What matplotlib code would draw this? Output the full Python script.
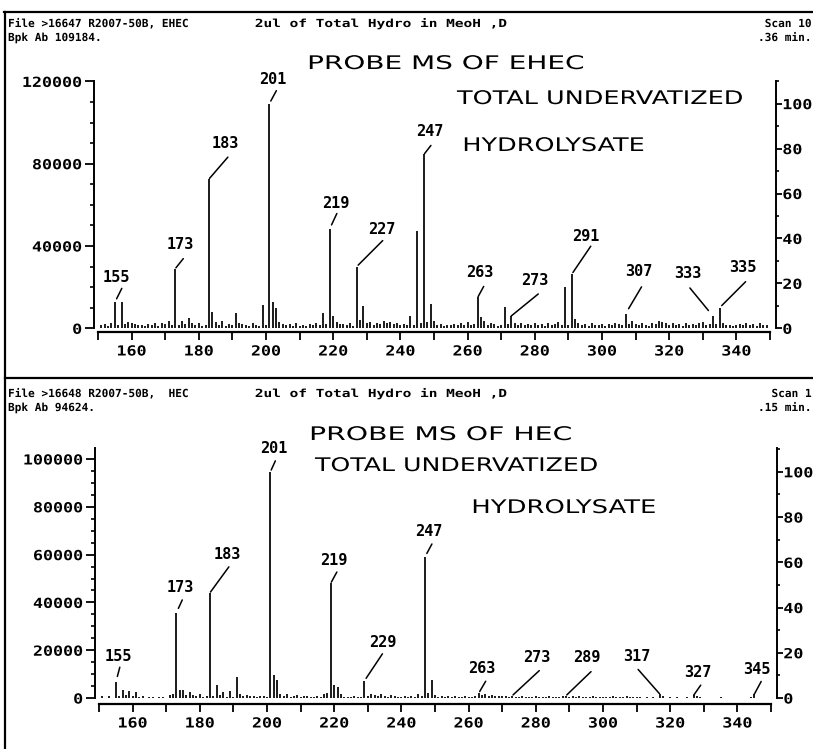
import matplotlib
matplotlib.use("Agg")
import matplotlib.pyplot as plt
from matplotlib import patheffects
from matplotlib.transforms import Affine2D
from matplotlib.lines import Line2D

# Probe MS spectra of EHEC / HEC hydrolysates (m/z 150..350)

mz = list(range(150, 351))

ehec_bpk = 109184
ehec_ab = [
    0, 1500, 2000, 1200, 2500, 12600, 1500, 12800, 2200, 3000,
    2500, 2200, 1500, 1800, 1000, 2000, 1500, 2500, 1200, 2800,
    2200, 3500, 1500, 29000, 1800, 3500, 2000, 4800, 2500, 1500,
    2800, 1200, 1500, 72500, 8000, 3000, 1500, 3500, 1200, 2000,
    1500, 7500, 2500, 2000, 1800, 1200, 2500, 1500, 1000, 11500,
    1500, 109184, 12600, 9800, 3000, 2200, 1500, 2000, 1200, 2500,
    1000, 1800, 1200, 2200, 1500, 2500, 1800, 7300, 2000, 48500,
    6000, 3000, 2200, 2000, 1500, 2800, 1200, 30000, 4000, 11000,
    2500, 3000, 1500, 2800, 2000, 3500, 2500, 3000, 2000, 2500,
    1500, 2200, 1500, 5800, 1500, 47200, 2500, 84500, 3000, 11800,
    3500, 1500, 2000, 1200, 1800, 1500, 2200, 1500, 2500, 1800,
    3000, 1500, 2200, 15000, 5300, 3500, 1500, 2500, 2000, 1200,
    1500, 10500, 2000, 6000, 2500, 1500, 2500, 1800, 2200, 1500,
    2500, 1500, 2000, 1200, 2800, 1500, 2200, 3000, 1500, 20000,
    1500, 26300, 4500, 2500, 1500, 2000, 1200, 2500, 1800, 1500,
    2200, 1200, 2000, 1500, 2800, 2200, 1500, 7000, 2000, 3500,
    2000, 1500, 2500, 1800, 1200, 2500, 2000, 3500, 3000, 2500,
    1800, 2500, 1500, 2200, 1200, 2500, 1500, 2200, 1800, 2500,
    3000, 1500, 2000, 6000, 2000, 10000, 2500, 1500, 1800, 1200,
    1500, 2200, 1800, 2500, 1500, 2200, 1200, 2500, 1800, 1500,
    0,
]

hec_bpk = 94624
hec_ab = [
    0, 800, 0, 700, 0, 6600, 1000, 3200, 1200, 2800,
    1000, 2500, 600, 800, 0, 600, 500, 0, 600, 500,
    0, 1200, 1500, 35600, 3400, 3200, 1200, 2600, 1200, 800,
    1500, 600, 800, 44000, 1000, 5300, 1200, 2500, 500, 2800,
    600, 8800, 1500, 1000, 1200, 800, 1000, 600, 800, 1000,
    500, 94624, 9800, 7700, 1500, 1000, 1800, 600, 800, 1200,
    500, 800, 1000, 600, 500, 800, 600, 1500, 2200, 48100,
    5500, 4800, 1500, 600, 500, 600, 800, 500, 600, 7200,
    800, 1500, 1200, 800, 1800, 1000, 600, 1200, 800, 600,
    500, 800, 600, 700, 500, 1500, 1000, 59000, 2000, 7700,
    1200, 500, 800, 600, 900, 500, 700, 600, 500, 800,
    600, 500, 700, 2000, 1200, 1500, 900, 1200, 800, 1000,
    700, 800, 600, 1000, 600, 500, 700, 500, 600, 500,
    700, 500, 600, 500, 800, 500, 600, 500, 700, 1000,
    600, 800, 500, 700, 500, 600, 500, 700, 500, 600,
    500, 600, 500, 700, 500, 600, 500, 700, 500, 600,
    500, 600, 0, 500, 0, 600, 0, 1500, 800, 0,
    600, 0, 500, 0, 0, 600, 0, 1200, 800, 600,
    0, 0, 0, 0, 0, 600, 0, 0, 0, 0,
    0, 0, 0, 0, 600, 1500, 0, 0, 0, 0,
    0,
]

ehec_labels = [155, 173, 183, 201, 219, 227, 247, 263, 273, 291, 307, 333, 335]
hec_labels = [155, 173, 183, 201, 219, 229, 247, 263, 273, 289, 317, 327, 345]

ehec_header = ["File >16647 R2007-50B, EHEC", "Bpk Ab 109184.",
               "2ul of Total Hydro in MeoH ,D", "Scan 10", ".36 min."]
hec_header = ["File >16648 R2007-50B,  HEC", "Bpk Ab 94624.",
              "2ul of Total Hydro in MeoH ,D", "Scan 1", ".15 min."]

ehec_notes = ["PROBE MS OF EHEC", "TOTAL UNDERVATIZED", "HYDROLYSATE"]
hec_notes = ["PROBE MS OF HEC", "TOTAL UNDERVATIZED", "HYDROLYSATE"]

# layout (pixels) ------------------------------------------------------
W, H = 813, 749

# leader start dy, leader end (dx, dy), label centre (dx, dy); +y is up
ehec_leaders = [
    (4, 7, 14, 2, 25), (1, 8, 10, 5, 24), (1, 19, 22, 16, 36),
    (3, 7, 13, 3, 24), (4, 7, 15, 6, 25), (2, 26, 26, 25, 37),
    (1, 7, 9, 6, 23), (1, 6, 11, 2, 25), (0, 27, 22, 24, 35),
    (2, 19, 28, 14, 38), (6, 16, 27, 13, 42), (7, -23, 28, -25, 42),
    (3, 26, 26, 23, 40),
]
hec_leaders = [
    (6, 4, 15, 3, 26), (5, 6, 13, 4, 25), (1, 19, 26, 17, 38),
    (2, 5, 11, 3, 23), (1, 6, 11, 3, 23), (3, 18, 27, 18, 38),
    (4, 7, 13, 4, 25), (2, 7, 12, 3, 25), (1, 27, 25, 25, 38),
    (1, 25, 24, 21, 38), (1, -22, 25, -23, 38), (0, 7, 10, 4, 23),
    (0, 7, 13, 3, 25),
]

MONO = "DejaVu Sans Mono"


class Stretch(patheffects.AbstractPathEffect):
    """Draw text stretched horizontally (plotter lettering is wide)."""

    def __init__(self, sx, anchor=0.0):
        super().__init__()
        self._sx = sx
        self._anchor = anchor

    def draw_path(self, renderer, gc, tpath, affine, rgbFace=None):
        ext = tpath.get_extents()
        x0 = ext.x0 + self._anchor * ext.width
        st = Affine2D().translate(-x0, 0).scale(self._sx, 1).translate(x0, 0)
        renderer.draw_path(gc, tpath, st + affine, rgbFace)


fig = plt.figure(figsize=(W / 100, H / 100), dpi=100)


def fx(x):
    return x / W


def fy(y):
    return 1 - y / H


def fig_line(x0, y0, x1, y1, lw=1.6):
    fig.add_artist(Line2D([fx(x0), fx(x1)], [fy(y0), fy(y1)],
                          transform=fig.transFigure, color="black", lw=lw))


def draw_panel(box, ab, bpk, ylim, yticks, yminor, labels, leaders,
               header, hdr_y, notes, note_pos):
    left, top, right, bottom = box
    ax = fig.add_axes([fx(left), fy(bottom), fx(right - left), (bottom - top) / H])
    xs = [m for m, v in zip(mz, ab) if v > 0]
    vs = [v for v in ab if v > 0]
    ax.vlines(xs, 0, vs, colors="black", lw=1.25)
    ax.set_xlim(150, 350)
    ax.set_ylim(*ylim)

    for s in ["top", "right"]:
        ax.spines[s].set_visible(False)
    ax.spines["left"].set_position(("outward", 3))
    ax.spines["left"].set_bounds(0, yticks[-1] if ylim[1] < yticks[-1] else ylim[1])
    ax.spines["left"].set_linewidth(1.4)
    ax.spines["bottom"].set_linewidth(1.6)

    ax.set_xticks(range(160, 350, 20))
    ax.set_xticks(range(150, 351, 10), minor=True)
    ax.set_yticks(yticks)
    ax.set_yticks(yminor, minor=True)
    ax.tick_params(axis="x", which="both", direction="out", length=6, width=1.3, pad=3)
    ax.tick_params(axis="y", which="major", direction="out", length=6.5, width=1.3, pad=2)
    ax.tick_params(axis="y", which="minor", direction="out", length=3, width=1.2)
    for lab in ax.get_xticklabels():
        lab.set_fontfamily(MONO)
        lab.set_fontweight("bold")
        lab.set_fontsize(10)
        lab.set_path_effects([Stretch(1.2, 0.5)])
    for lab in ax.get_yticklabels():
        lab.set_fontfamily(MONO)
        lab.set_fontweight("bold")
        lab.set_fontsize(10)
        lab.set_path_effects([Stretch(1.2, 1.0)])

    # relative abundance axis on the right
    ax2 = ax.twinx()
    ax2.set_ylim(ylim[0] / bpk * 100, ylim[1] / bpk * 100)
    for s in ["top", "left", "bottom"]:
        ax2.spines[s].set_visible(False)
    ax2.spines["right"].set_position(("outward", 4))
    ax2.spines["right"].set_bounds(0, ylim[1] / bpk * 100)
    ax2.spines["right"].set_linewidth(1.4)
    ax2.set_yticks(range(0, 101, 20))
    ax2.set_yticks([t for t in range(10, 111, 20) if t <= ylim[1] / bpk * 100], minor=True)
    ax2.tick_params(axis="y", which="major", direction="out", length=4.5, width=1.3, pad=0.5)
    ax2.tick_params(axis="y", which="minor", direction="out", length=2.5, width=1.2)
    for lab in ax2.get_yticklabels():
        lab.set_fontfamily(MONO)
        lab.set_fontweight("bold")
        lab.set_fontsize(10)
        lab.set_path_effects([Stretch(1.2, 0.0)])

    # peak labels with leader lines
    for m, (d0, lx, ly, tx, ty) in zip(labels, leaders):
        h = ab[mz.index(m)]
        ax.annotate("", xy=(m, h), xytext=(lx, ly), textcoords="offset pixels",
                    xycoords="data",
                    arrowprops=dict(arrowstyle="-", lw=1.1, color="black",
                                    shrinkA=0, shrinkB=d0 * 0.72),
                    annotation_clip=False)
        ax.annotate(str(m), xy=(m, h), xytext=(tx, ty), textcoords="offset pixels",
                    ha="center", va="center", fontfamily=MONO, fontweight="bold",
                    fontsize=11, annotation_clip=False)

    # printer header
    hx = [8, 8, 255, 812, 812]
    hy = [hdr_y, hdr_y + 14, hdr_y, hdr_y, hdr_y + 14]
    ha = ["left", "left", "left", "right", "right"]
    sx = [1.0, 1.0, 1.3, 1.0, 1.0]
    for t, x, y, a, s in zip(header, hx, hy, ha, sx):
        fig.text(fx(x), fy(y), t, ha=a, va="baseline", fontfamily=MONO,
                 fontweight="bold", fontsize=8,
                 path_effects=[Stretch(s, 0.0 if a == "left" else 1.0)])

    # hand-lettered notes
    for t, (x, y, s) in zip(notes, note_pos):
        fig.text(fx(x), fy(y), t, ha="left", va="baseline", fontfamily="DejaVu Sans",
                 fontsize=13.5, path_effects=[Stretch(s, 0.0)])
    return ax


draw_panel((98, 81, 770, 332), ehec_ab, ehec_bpk, (-1800, 120200),
           [0, 40000, 80000, 120000], list(range(0, 120001, 10000)),
           ehec_labels, ehec_leaders, ehec_header, 27,
           ehec_notes, [(308, 69, 1.49), (457, 104, 1.36), (463, 151, 1.36)])

draw_panel((99, 448, 771, 704), hec_ab, hec_bpk, (-2500, 104600),
           [0, 20000, 40000, 60000, 80000, 100000], list(range(0, 100001, 5000)),
           hec_labels, hec_leaders, hec_header, 397,
           hec_notes, [(310, 440, 1.51), (315, 471, 1.345), (472, 513, 1.38)])

# page frame of the two printouts
fig_line(4, 12, 813, 12)
fig_line(5, 12, 5, 749)
fig_line(5, 378, 813, 378)

fig.savefig("out.png", dpi=100)
